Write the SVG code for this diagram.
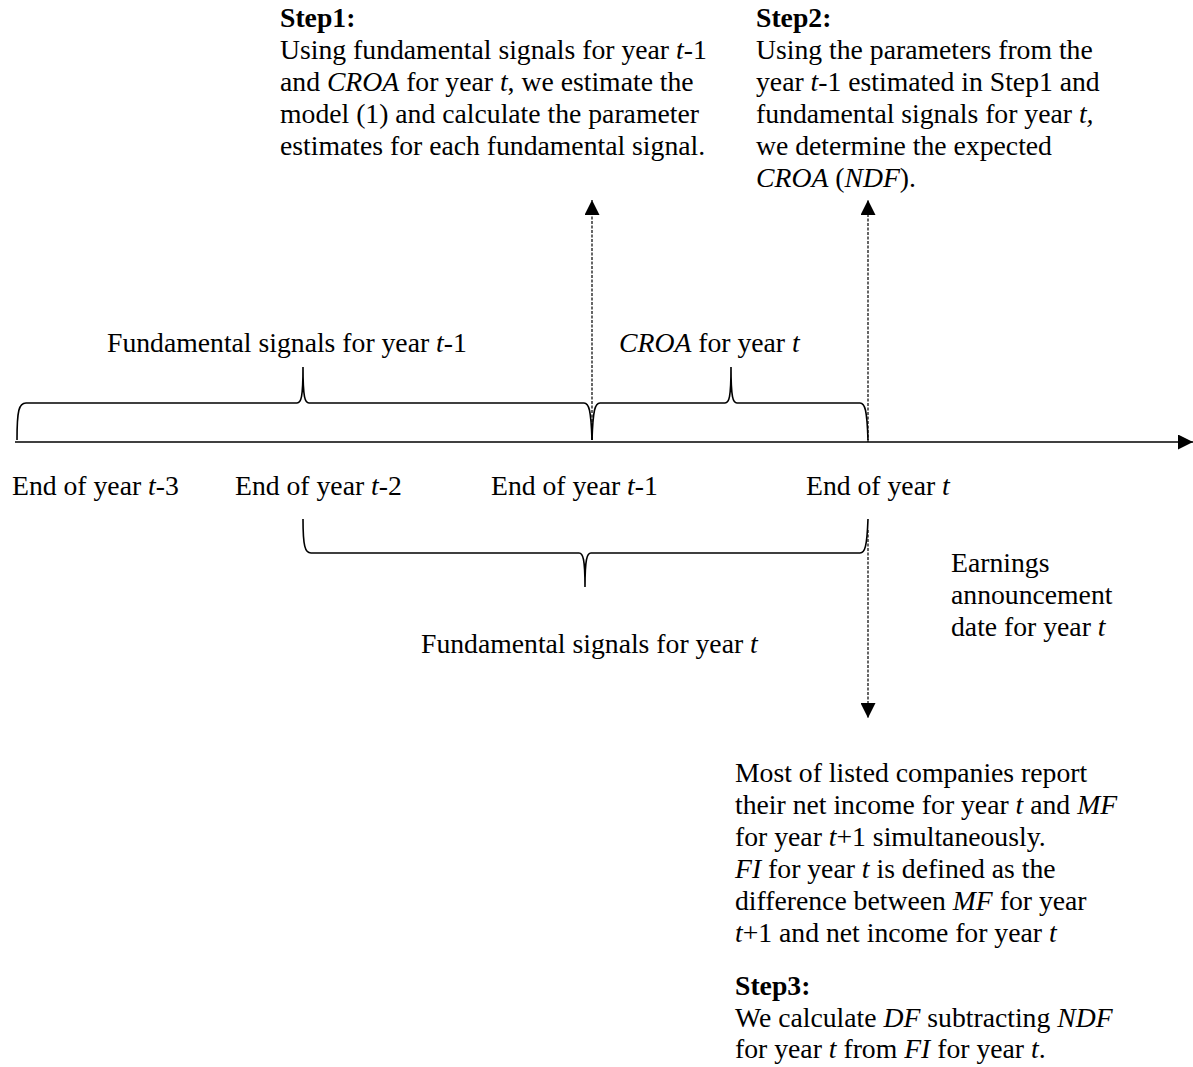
<svg xmlns="http://www.w3.org/2000/svg" width="1193" height="1067" viewBox="0 0 1193 1067">
<style>
text{font-family:"Liberation Serif","Times New Roman",serif;font-size:27.7px;fill:#000}
.b{font-weight:bold}
.i{font-style:italic}
.ln{fill:none;stroke:#000;stroke-width:1.5}
.br{fill:none;stroke:#000;stroke-width:1.6}
.dash{fill:none;stroke:#000;stroke-width:1.2;stroke-dasharray:3 1.5}
</style>
<defs>
<marker id="ah" viewBox="0 0 10 10" refX="10" refY="5" markerWidth="15" markerHeight="15" markerUnits="userSpaceOnUse" orient="auto">
<path d="M0,0 L10,5 L0,10 Z" fill="#000"/>
</marker>
</defs>
<g id="connectors">
<line class="ln" x1="15" y1="442" x2="1193" y2="442" marker-end="url(#ah)"/>
<line class="dash" x1="592" y1="440" x2="592" y2="200" marker-end="url(#ah)"/>
<line class="dash" x1="868" y1="442" x2="868" y2="200" marker-end="url(#ah)"/>
<line class="dash" x1="868" y1="530" x2="868" y2="718" marker-end="url(#ah)"/>
</g>
<g id="brace-t1">
<path class="br" d="M17,440 C17,410 19,403 26,403 L297,403 C301,403 303,398 303,367 C303,398 305,403 309,403 L584,403 C589,403 591,410 592,440"/>
<text x="107" y="352">Fundamental signals for year <tspan class="i">t</tspan>-1</text>
</g>
<g id="brace-croa">
<path class="br" d="M592,440 C593,410 595,403 600,403 L725,403 C729,403 731,398 731,367 C731,398 733,403 737,403 L860,403 C865,403 867,410 868,440"/>
<text x="619" y="352"><tspan class="i">CROA</tspan> for year <tspan class="i">t</tspan></text>
</g>
<g id="brace-t">
<path class="br" d="M303,519 C303,546 305,553 311,553 L579,553 C583,553 585,559 585,587 C585,559 587,553 591,553 L860,553 C865,553 867,546 868,519"/>
<text x="421" y="653">Fundamental signals for year <tspan class="i">t</tspan></text>
</g>
<g id="tick-labels">
<text x="12" y="495">End of year <tspan class="i">t</tspan>-3</text>
<text x="235" y="495">End of year <tspan class="i">t</tspan>-2</text>
<text x="491" y="495">End of year <tspan class="i">t</tspan>-1</text>
<text x="806" y="495">End of year <tspan class="i">t</tspan></text>
</g>
<g id="step1">
<text x="280" y="27" class="b">Step1:</text>
<text x="280" y="59">Using fundamental signals for year <tspan class="i">t</tspan>-1</text>
<text x="280" y="91">and <tspan class="i">CROA</tspan> for year <tspan class="i">t</tspan>, we estimate the</text>
<text x="280" y="123">model (1) and calculate the parameter</text>
<text x="280" y="155">estimates for each fundamental signal.</text>
</g>
<g id="step2">
<text x="756" y="27" class="b">Step2:</text>
<text x="756" y="59">Using the parameters from the</text>
<text x="756" y="91">year <tspan class="i">t</tspan>-1 estimated in Step1 and</text>
<text x="756" y="123">fundamental signals for year <tspan class="i">t,</tspan></text>
<text x="756" y="155">we determine the expected</text>
<text x="756" y="187"><tspan class="i">CROA</tspan> (<tspan class="i">NDF</tspan>).</text>
</g>
<g id="earnings">
<text x="951" y="572">Earnings</text>
<text x="951" y="604">announcement</text>
<text x="951" y="636">date for year <tspan class="i">t</tspan></text>
</g>
<g id="report">
<text x="735" y="782">Most of listed companies report</text>
<text x="735" y="814">their net income for year <tspan class="i">t</tspan> and <tspan class="i">MF</tspan></text>
<text x="735" y="846">for year <tspan class="i">t</tspan>+1 simultaneously.</text>
<text x="735" y="878"><tspan class="i">FI</tspan> for year <tspan class="i">t</tspan> is defined as the</text>
<text x="735" y="910">difference between <tspan class="i">MF</tspan> for year</text>
<text x="735" y="942"><tspan class="i">t</tspan>+1 and net income for year <tspan class="i">t</tspan></text>
</g>
<g id="step3">
<text x="735" y="995" class="b">Step3:</text>
<text x="735" y="1027">We calculate <tspan class="i">DF</tspan> subtracting <tspan class="i">NDF</tspan></text>
<text x="735" y="1058">for year <tspan class="i">t</tspan> from <tspan class="i">FI</tspan> for year <tspan class="i">t</tspan>.</text>
</g>
</svg>
